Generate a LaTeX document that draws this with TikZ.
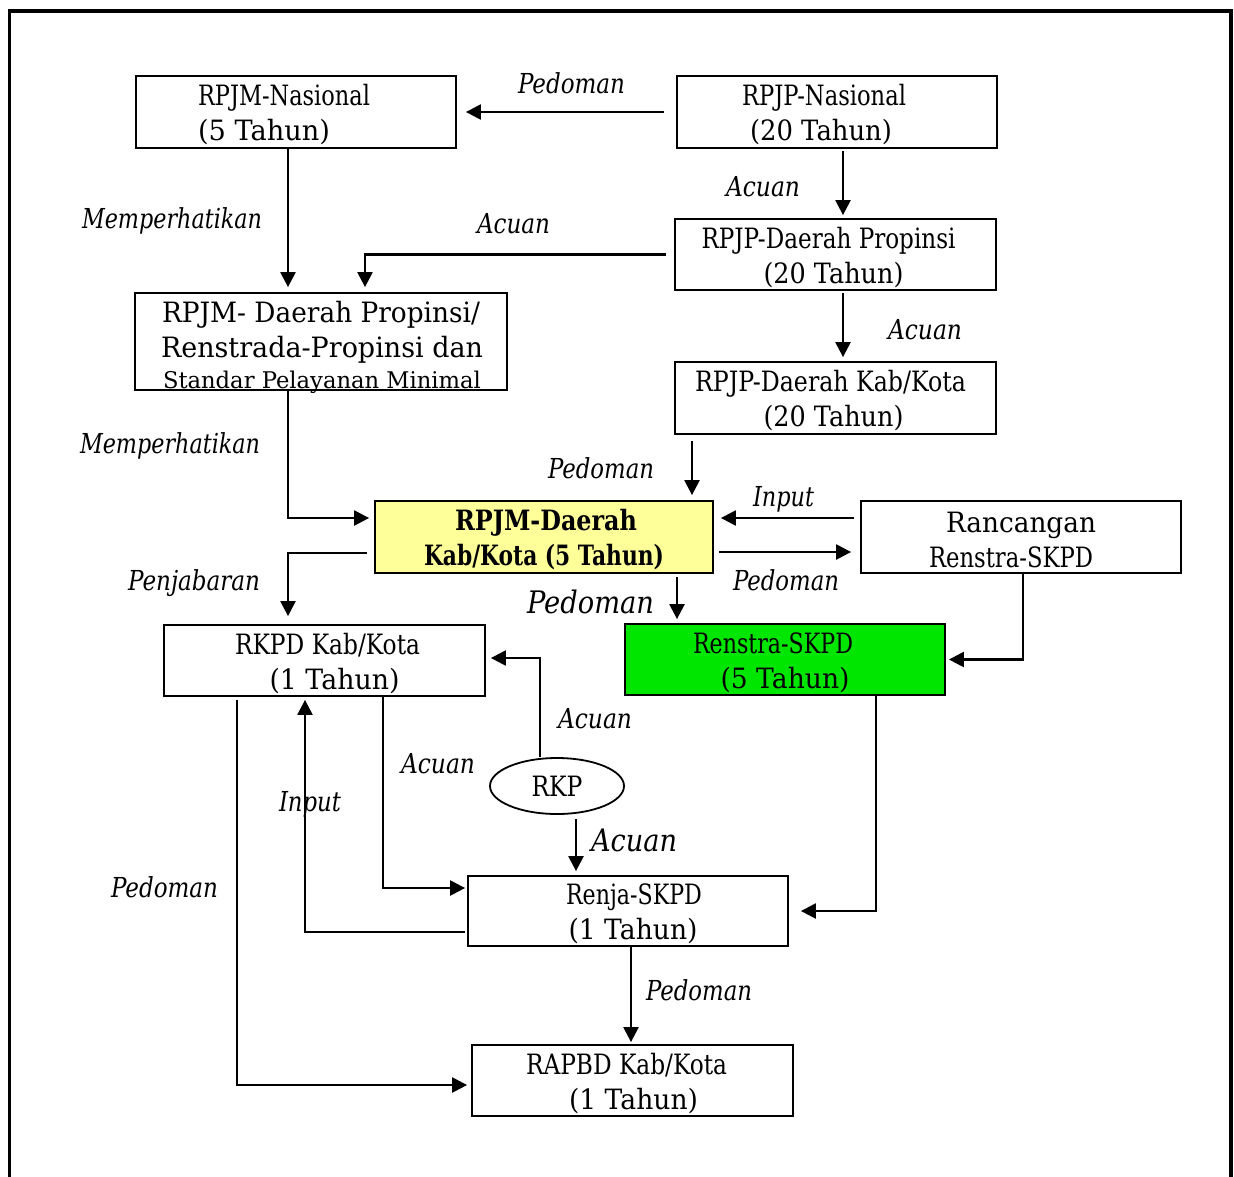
\documentclass[tikz,border=0pt]{standalone}
\usepackage{fontspec}
\setmainfont{DejaVu Serif}
\usepackage{graphicx}
\usetikzlibrary{arrows.meta,shapes.geometric}
\newlength\fitwl
\newcommand\fitw[2]{\settowidth\fitwl{#2}\pgfmathsetmacro\fitwf{#1/\fitwl}\scalebox{\fitwf}[1]{#2}}
\newcommand\bxl[3]{\hbox{\kern#1pt\fitw{#2}{#3}\kern-#1pt}}
\newcommand\stru{\rule{0pt}{27pt}}
\definecolor{boxyellow}{RGB}{255,255,153}
\definecolor{boxgreen}{RGB}{0,230,0}
\tikzset{
  box/.style={draw, line width=1.8pt, rectangle, inner sep=0pt, align=center,
    font=\fontsize{28}{35}\selectfont},
  rkpbox/.style={draw, line width=1.8pt, ellipse, inner sep=0pt,
    minimum width=134pt, minimum height=56pt, font=\fontsize{28}{35}\selectfont},
  lab/.style={inner sep=0pt, anchor=base, font=\fontsize{27.5}{34}\selectfont\itshape},
  biglab/.style={inner sep=0pt, anchor=base, font=\fontsize{31}{38}\selectfont\itshape},
  arr/.style={line width=2.3pt, -{Triangle[length=15pt,width=15pt]}},
  frame/.style={line width=3.5pt}
}
\begin{document}
\begin{tikzpicture}[x=1pt,y=-1pt]
\useasboundingbox (0,0) rectangle (1234,1176);
\draw[frame] (9.5,1195) -- (9.5,11) -- (1231,11) -- (1231,1195);

% boxes
\node[box, minimum width=320pt, minimum height=72pt] (b1) at (296,112)
  {\stru\bxl{-12}{172}{RPJM-Nasional}\\\bxl{-32}{132}{(5 Tahun)}};
\node[box, minimum width=320pt, minimum height=72pt] (b2) at (837,112)
  {\stru\bxl{-13}{164}{RPJP-Nasional}\\\bxl{-16}{142}{(20 Tahun)}};
\node[box, minimum width=321pt, minimum height=71pt] (b3) at (835.5,254.5)
  {\stru\bxl{-7}{254}{RPJP-Daerah Propinsi}\\\bxl{-2}{140}{(20 Tahun)}};
\node[box, minimum width=321pt, minimum height=72pt] (b4) at (835.5,398)
  {\stru\bxl{-5}{271}{RPJP-Daerah Kab/Kota}\\\bxl{-2}{140}{(20 Tahun)}};
\node[box, minimum width=372pt, minimum height=97pt] (b5) at (321,341.5)
  {\stru\bxl{0}{318}{RPJM- Daerah Propinsi/}\\\bxl{1}{322}{Renstrada-Propinsi dan}\\[-4pt]\raisebox{0pt}[\height][0pt]{\fontsize{23}{35}\selectfont\bxl{1}{318}{Standar Pelayanan Minimal}}};
\node[box, fill=boxyellow, minimum width=338pt, minimum height=72pt, font=\fontsize{28}{35}\selectfont\bfseries] (b6) at (544,537)
  {\stru\bxl{2}{182}{RPJM-Daerah}\\\bxl{0}{240}{Kab/Kota (5 Tahun)}};
\node[box, minimum width=320pt, minimum height=72pt] (b7) at (1021,537)
  {\stru\bxl{0}{150}{Rancangan}\\\bxl{-10}{164}{Renstra-SKPD}};
\node[box, minimum width=321pt, minimum height=71pt] (b8) at (324.5,660.5)
  {\stru\bxl{3}{185}{RKPD Kab/Kota}\\\bxl{10}{130}{(1 Tahun)}};
\node[box, fill=boxgreen, minimum width=320pt, minimum height=71pt] (b9) at (785,659.5)
  {\stru\bxl{-12}{160}{Renstra-SKPD}\\\bxl{0}{129}{(5 Tahun)}};
\node[rkpbox] (rkp) at (557,786) {\fitw{51}{RKP}};
\node[box, minimum width=320pt, minimum height=70pt] (b10) at (628,911)
  {\stru\bxl{6}{136}{Renja-SKPD}\\\bxl{5}{129}{(1 Tahun)}};
\node[box, minimum width=321pt, minimum height=71pt] (b11) at (632.5,1080.5)
  {\stru\bxl{-6}{201}{RAPBD Kab/Kota}\\\bxl{1}{129}{(1 Tahun)}};

% connectors
\draw[arr, shorten <=12pt, shorten >=9pt] (b2.west) -- (b1.east);
\draw[arr, shorten <=2pt, shorten >=3pt] ([xshift=6pt]b2.south) -- ([xshift=6pt]b2.south |- b3.north);
\draw[arr, shorten <=8pt, shorten >=5pt] (b3.west) -| ([xshift=44pt]b5.north);
\draw[arr, shorten >=5pt] ([xshift=-8pt]b1.south) -- ([xshift=-8pt]b1.south |- b5.north);
\draw[arr, shorten <=2pt, shorten >=4pt] ([xshift=7.5pt]b3.south) -- ([xshift=7.5pt]b3.south |- b4.north);
\draw[arr, shorten <=6pt, shorten >=5pt] ([xshift=148pt]b6.north |- b4.south) -- ([xshift=148pt]b6.north);
\draw[arr, shorten >=5pt] ([xshift=-33pt]b5.south) |- ([yshift=19pt]b6.west);
\draw[arr, shorten <=6pt, shorten >=7pt] ([yshift=19pt]b7.west) -- ([yshift=19pt]b6.east);
\draw[arr, shorten <=5pt, shorten >=9pt] ([yshift=-15pt]b6.east) -- ([yshift=-15pt]b7.west);
\draw[arr, shorten <=7pt, shorten >=8pt] ([yshift=-16pt]b6.west) -| ([xshift=-36.5pt]b8.north);
\draw[arr, shorten <=3pt, shorten >=4pt] ([xshift=-108pt]b9.north |- b6.south) -- ([xshift=-108pt]b9.north);
\draw[arr, shorten >=3pt] ([xshift=2pt]b7.south) |- (b9.east);
\draw[arr, shorten >=5pt] ([xshift=-17pt]rkp.north) |- ([yshift=2.5pt]b8.east);
\draw[arr, shorten <=4pt, shorten >=4pt] ([xshift=19pt]rkp.south) -- ([xshift=19pt]rkp.south |- b10.north);
\draw[arr, shorten >=2pt] ([xshift=58.5pt]b8.south) |- ([yshift=23pt]b10.west);
\draw[arr, shorten <=2pt, shorten >=3pt] ([yshift=-21pt]b10.west) -| ([xshift=-19.5pt]b8.south);
\draw[arr, shorten >=12pt] ([xshift=91pt]b9.south) |- (b10.east);
\draw[arr, shorten >=2pt] ([xshift=3pt]b10.south) -- ([xshift=3pt]b10.south |- b11.north);
\draw[arr, shorten <=3pt, shorten >=4pt] ([xshift=-87.5pt]b8.south) |- ([yshift=-4.5pt]b11.west);

% labels
\node[lab] (l1) at (571.5,93) {\fitw{107}{Pedoman}};
\node[lab] (l2) at (763,196) {\fitw{74}{Acuan}};
\node[lab] (l3) at (172,228) {\fitw{180}{Memperhatikan}};
\node[lab] (l4) at (513.5,233) {\fitw{73}{Acuan}};
\node[lab] (l5) at (925,339) {\fitw{74}{Acuan}};
\node[lab] (l6) at (601,478) {\fitw{106}{Pedoman}};
\node[lab] (l7) at (170,453) {\fitw{180}{Memperhatikan}};
\node[lab] (l8) at (783.5,506) {\fitw{61}{Input}};
\node[lab] (l9) at (786,590) {\fitw{106}{Pedoman}};
\node[lab] (l10) at (194,590) {\fitw{132}{Penjabaran}};
\node[biglab] (l11) at (590.5,613) {\fitw{127}{Pedoman}};
\node[lab] (l12) at (595,728) {\fitw{74}{Acuan}};
\node[lab] (l13) at (438,773) {\fitw{74}{Acuan}};
\node[lab] (l14) at (310,811) {\fitw{62}{Input}};
\node[biglab] (l15) at (634,851) {\fitw{86}{Acuan}};
\node[lab] (l16) at (164.5,897) {\fitw{107}{Pedoman}};
\node[lab] (l17) at (699,1000) {\fitw{106}{Pedoman}};
\end{tikzpicture}
\end{document}
